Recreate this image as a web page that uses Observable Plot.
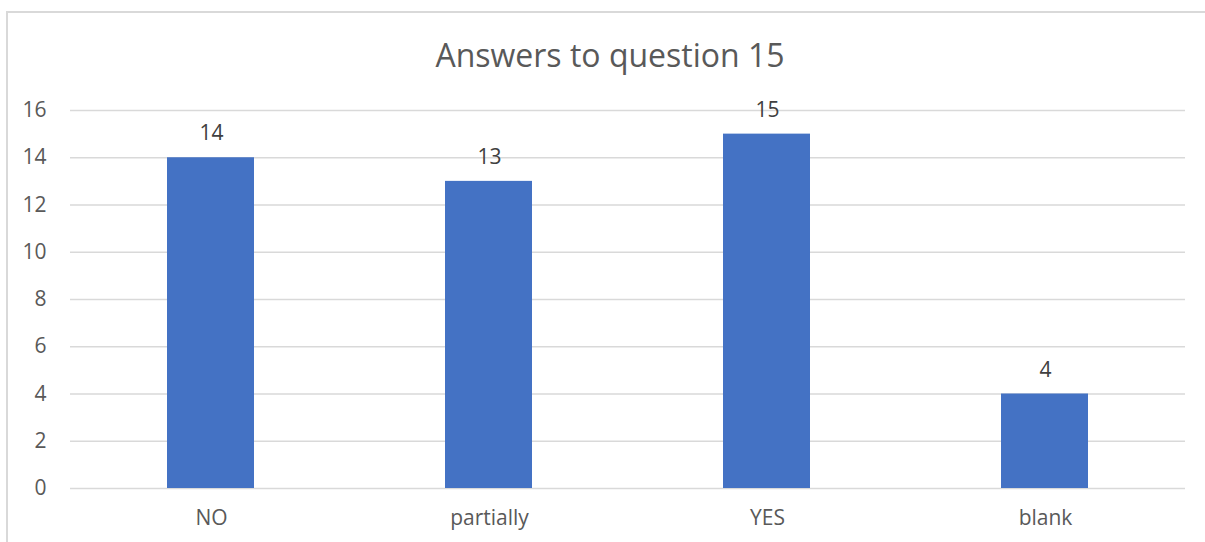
<!DOCTYPE html>
<html>
<head>
<meta charset="utf-8">
<script src="https://cdn.jsdelivr.net/npm/d3@7"></script>
<script src="https://cdn.jsdelivr.net/npm/@observablehq/plot@0.6"></script>
<style>
  html, body { margin: 0; padding: 0; background: #fff; overflow: hidden; }
  #wrap { position: relative; width: 1205px; height: 542px; overflow: hidden; }
  #frame { position: absolute; left: 6px; top: 11px; width: 1300px; height: 700px; border: 2px solid #d9d9d9; box-sizing: border-box; }
  #title { position: absolute; left: 0; width: 1220px; top: 33px; text-align: center; font-family: "Open Sans", sans-serif; font-size: 32px; color: #595959; line-height: 44px; }
  #chart { position: absolute; left: 0; top: 0; }
</style>
</head>
<body>
<div id="wrap">
  <div id="frame"></div>
  <div id="chart"></div>
  <div id="title">Answers to question 15</div>
</div>
<script>
const categories = ["NO", "partially", "YES", "blank"];
const values = [14, 13, 15, 4];
const yTicks = [0, 2, 4, 6, 8, 10, 12, 14, 16];

const data = categories.map((c, i) => ({category: c, value: values[i]}));

const chart = Plot.plot({
  width: 1205,
  height: 542,
  marginTop: 110,
  marginBottom: 54,
  marginLeft: 70,
  marginRight: 20,
  style: {fontFamily: "'Open Sans', sans-serif", fontSize: "21px", color: "#595959", background: "transparent"},
  x: {domain: categories, paddingInner: 0, paddingOuter: 0, label: null},
  y: {domain: [0, 16], label: null},
  marks: [
    Plot.ruleY(yTicks, {stroke: "#d9d9d9", strokeWidth: 1.5, strokeOpacity: 1}),
    Plot.barY(data, {x: "category", y: "value", fill: "#4472c4", insetLeft: 95, insetRight: 96}),
    Plot.text(data, {x: "category", y: "value", text: d => String(d.value), dy: -24, fill: "#404040", fontSize: 21}),
    Plot.axisY({ticks: yTicks, tickSize: 0, tickPadding: 24, fontSize: 21, fill: "#595959", label: null}),
    Plot.axisX({tickSize: 0, tickPadding: 22, fontSize: 21, fill: "#595959", label: null})
  ]
});
document.getElementById("chart").appendChild(chart);
</script>
</body>
</html>
